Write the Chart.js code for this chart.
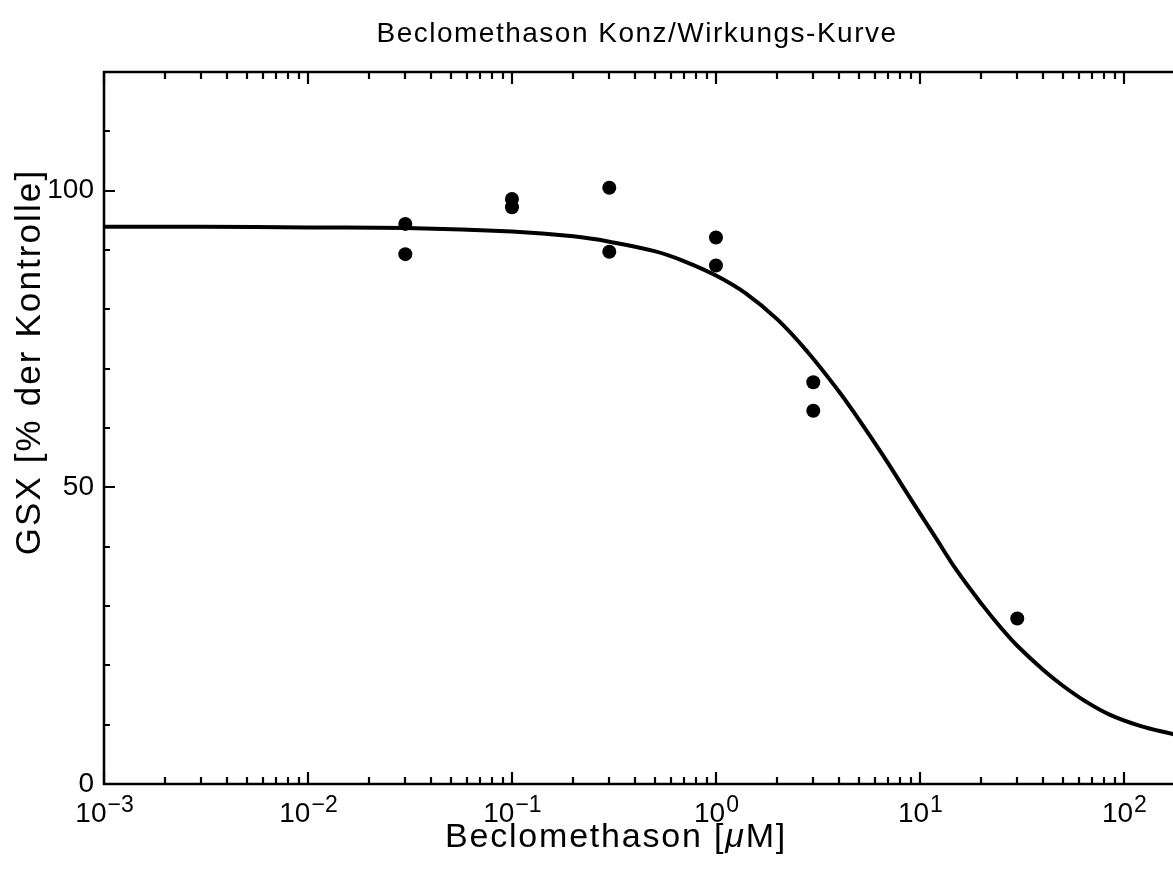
<!DOCTYPE html>
<html>
<head>
<meta charset="utf-8">
<script src="https://cdn.jsdelivr.net/npm/chart.js@4"></script>
<style>
  body { margin: 0; background: #fff; }
  #wrap { width: 1173px; height: 883px; overflow: hidden; }
</style>
</head>
<body>
<div id="wrap"><canvas id="doseChart" width="1173" height="883"></canvas></div>
<script>
// measured points (concentration in µM, GSX in % of control)
const conc = [0.03, 0.03, 0.1, 0.1, 0.3, 0.3, 1, 1, 3, 3, 30];
const gsx = [94.4, 89.3, 98.6, 97.2, 100.5, 89.7, 92.1, 87.4, 67.7, 62.9, 27.9];

// fitted curve
const fitConc = [0.001, 0.003, 0.01, 0.03, 0.1, 0.2, 0.3, 0.5, 0.7, 1, 1.4, 2, 2.8, 4, 5, 6, 7, 8.5, 10, 12, 15, 20, 25, 30, 40, 50, 65, 85, 120, 174];
const fitGsx = [93.9, 93.9, 93.8, 93.7, 93.1, 92.3, 91.4, 89.8, 88.1, 85.7, 82.7, 78.3, 72.9, 66.2, 61.5, 57.5, 54.0, 49.4, 45.6, 41.4, 36.2, 30.4, 26.3, 23.3, 19.3, 16.6, 13.9, 11.7, 9.8, 8.4];

// axis ticks
const xTickValues = [0.001, 0.01, 0.1, 1, 10, 100];
const xTickExponents = ['\u22123', '\u22122', '\u22121', '0', '1', '2'];
const yTickValues = [0, 50, 100];
const yMinorStep = 10;

const titleText = 'Beclomethason Konz/Wirkungs-Kurve';
const xTitleText = 'Beclomethason [';
const yTitleText = 'GSX [% der Kontrolle]';

const font = '"Liberation Sans", Arial, Helvetica, sans-serif';

const frameTicks = {
    id: 'frameTicks',
    afterDatasetsDraw(chart) {
        const { ctx, chartArea: a, scales: { x, y } } = chart;
        ctx.save();
        ctx.strokeStyle = '#000';
        ctx.fillStyle = '#000';
        ctx.lineWidth = 2.5;

        // frame (right side runs off the page)
        ctx.beginPath();
        ctx.moveTo(a.right + 5, a.top);
        ctx.lineTo(a.left, a.top);
        ctx.lineTo(a.left, a.bottom);
        ctx.lineTo(a.right + 5, a.bottom);
        ctx.stroke();

        // x ticks, pointing inward
        ctx.lineWidth = 2.2;
        ctx.beginPath();
        for (let e = -3; e <= 2; e++) {
            for (let m = 1; m <= 9; m++) {
                const v = m * Math.pow(10, e);
                if (v > x.max) break;
                const px = Math.round(x.getPixelForValue(v));
                const len = m === 1 ? 12 : 7;
                ctx.moveTo(px, a.bottom);
                ctx.lineTo(px, a.bottom - len);
                ctx.moveTo(px, a.top);
                ctx.lineTo(px, a.top + len);
            }
        }
        // y ticks
        for (let v = 0; v <= y.max; v += yMinorStep) {
            const py = Math.round(y.getPixelForValue(v));
            const len = yTickValues.includes(v) ? 11 : 6;
            ctx.moveTo(a.left, py);
            ctx.lineTo(a.left + len, py);
        }
        ctx.stroke();

        // y tick labels
        ctx.font = '28px ' + font;
        ctx.textAlign = 'right';
        ctx.textBaseline = 'middle';
        yTickValues.forEach(v => ctx.fillText(String(v), a.left - 10, y.getPixelForValue(v)));

        // x tick labels: 10 with raised exponent
        ctx.textBaseline = 'alphabetic';
        ctx.textAlign = 'left';
        xTickValues.forEach((v, i) => {
            const px = x.getPixelForValue(v);
            ctx.font = '28px ' + font;
            const wBase = ctx.measureText('10').width;
            ctx.font = '23px ' + font;
            const wExp = ctx.measureText(xTickExponents[i]).width;
            const left = px - (wBase + wExp) / 2;
            ctx.font = '28px ' + font;
            ctx.fillText('10', left, a.bottom + 38);
            ctx.font = '23px ' + font;
            ctx.fillText(xTickExponents[i], left + wBase + 1, a.bottom + 28);
        });

        // title
        ctx.textAlign = 'center';
        ctx.textBaseline = 'middle';
        ctx.font = '28px ' + font;
        ctx.letterSpacing = '1.5px';
        ctx.fillText(titleText, 637, 34);

        // x axis title with italic mu
        ctx.textBaseline = 'alphabetic';
        ctx.letterSpacing = '1.8px';
        ctx.font = '34px ' + font;
        const w1 = ctx.measureText(xTitleText).width;
        ctx.font = 'italic 34px ' + font;
        const w2 = ctx.measureText('\u03bc').width;
        ctx.font = '34px ' + font;
        const w3 = ctx.measureText('M]').width;
        const sx = 616 - (w1 + w2 + w3) / 2;
        ctx.textAlign = 'left';
        ctx.fillText(xTitleText, sx, 847);
        ctx.font = 'italic 34px ' + font;
        ctx.fillText('\u03bc', sx + w1, 847);
        ctx.font = '34px ' + font;
        ctx.fillText('M]', sx + w1 + w2, 847);

        // y axis title
        ctx.translate(40, 362);
        ctx.rotate(-Math.PI / 2);
        ctx.textAlign = 'center';
        ctx.letterSpacing = '2.1px';
        ctx.font = '35px ' + font;
        ctx.fillText(yTitleText, 0, 0);
        ctx.restore();
    }
};

new Chart(document.getElementById('doseChart'), {
    type: 'scatter',
    data: {
        datasets: [
            {
                label: 'Messwerte',
                data: conc.map((c, i) => ({ x: c, y: gsx[i] })),
                backgroundColor: '#000',
                borderWidth: 0,
                pointRadius: 7
            },
            {
                label: 'Fit',
                data: fitConc.map((c, i) => ({ x: c, y: fitGsx[i] })),
                showLine: true,
                borderColor: '#000',
                borderWidth: 4,
                pointRadius: 0,
                tension: 0.4,
                borderCapStyle: 'round',
                borderJoinStyle: 'round',
                fill: false
            }
        ]
    },
    options: {
        responsive: false,
        animation: false,
        layout: { autoPadding: false, padding: { left: 104, top: 72, right: 0, bottom: 99 } },
        plugins: { legend: { display: false }, tooltip: { enabled: false } },
        scales: {
            x: { type: 'logarithmic', min: 0.001, max: 174, display: false },
            y: { min: 0, max: 120, display: false }
        }
    },
    plugins: [frameTicks]
});
</script>
</body>
</html>
